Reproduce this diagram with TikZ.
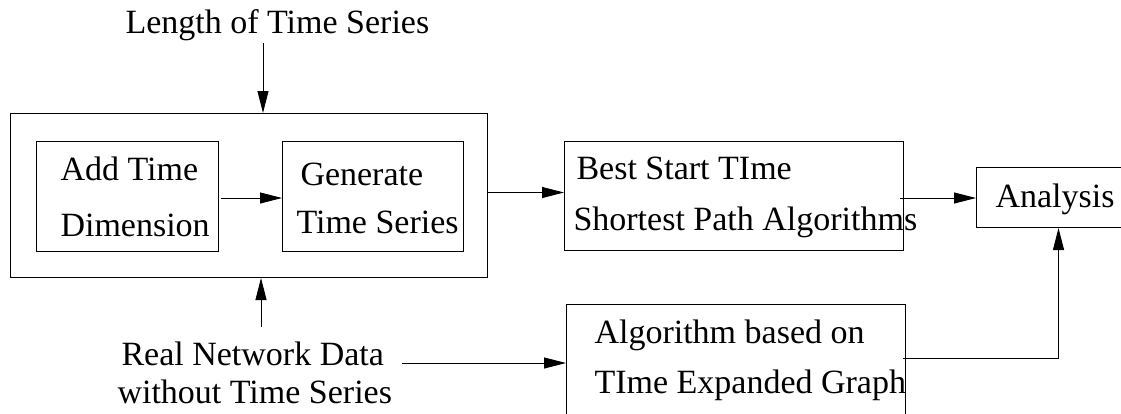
\documentclass[tikz,border=0pt]{standalone}
\usepackage{fontspec}
\setmainfont{Liberation Serif}
\usetikzlibrary{arrows.meta}
\begin{document}
\begin{tikzpicture}[x=1pt,y=-1pt,
  line width=1pt,
  box/.style={draw, rectangle, inner sep=0, anchor=north west},
  lbl/.style={anchor=base west, inner sep=0, font=\fontsize{34}{40}\selectfont},
  arr/.style={-{Triangle[length=22pt,width=11pt]}}]
\useasboundingbox (0,0) rectangle (1121,413);
% boxes
\node[box, minimum width=477pt, minimum height=164pt] (outer) at (10,113) {};
\node[box, minimum width=182pt, minimum height=110pt] (add) at (36,141) {};
\node[box, minimum width=181pt, minimum height=110pt] (gen) at (282,141) {};
\node[box, minimum width=339pt, minimum height=109pt] (best) at (564,141) {};
\node[box, minimum width=339pt, minimum height=125pt] (algo) at (566,304) {};
\node[box, minimum width=164pt, minimum height=60pt] (anal) at (976,167) {};
% texts
\node[lbl] (len) at (125,33) {Length of Time Series};
\node[lbl] (t1) at (60,180) {Add Time};
\node[lbl] (t2) at (60,236) {Dimension};
\node[lbl] (t3) at (300,185) {Generate};
\node[lbl] (t4) at (296,233) {Time Series};
\node[lbl] (t5) at (576,179) {Best Start TIme};
\node[lbl] (t6) at (573,230) {Shortest Path Algorithms};
\node[lbl] (t7) at (995,207) {Analysis};
\node[lbl] (real) at (121,365) {Real Network Data};
\node[lbl] (wo) at (117,403) {without Time Series};
\node[lbl] (t8) at (594,343) {Algorithm based on};
\node[lbl] (t9) at (594,393) {TIme Expanded Graph};
% connector ends
\coordinate (lenout) at (263,43);
\coordinate (realup) at (261,327);
\coordinate (realout) at (402,363);
\coordinate (algoout) at (903,358);
\coordinate (bestout) at (900,198);
\coordinate (addout) at (221,198);
% connectors
\draw[arr] (lenout) -- (lenout |- outer.north);
\draw[arr] (realup) -- (realup |- outer.south);
\draw[arr] (addout) -- (addout -| gen.west);
\draw[arr] ([yshift=3pt]outer.east) -- ([yshift=3pt]outer.east -| best.west);
\draw[arr] (bestout) -- (bestout -| anal.west);
\draw[arr] (realout) -- (realout -| algo.west);
\draw[arr] (algoout) -| (anal.south);
\end{tikzpicture}
\end{document}
